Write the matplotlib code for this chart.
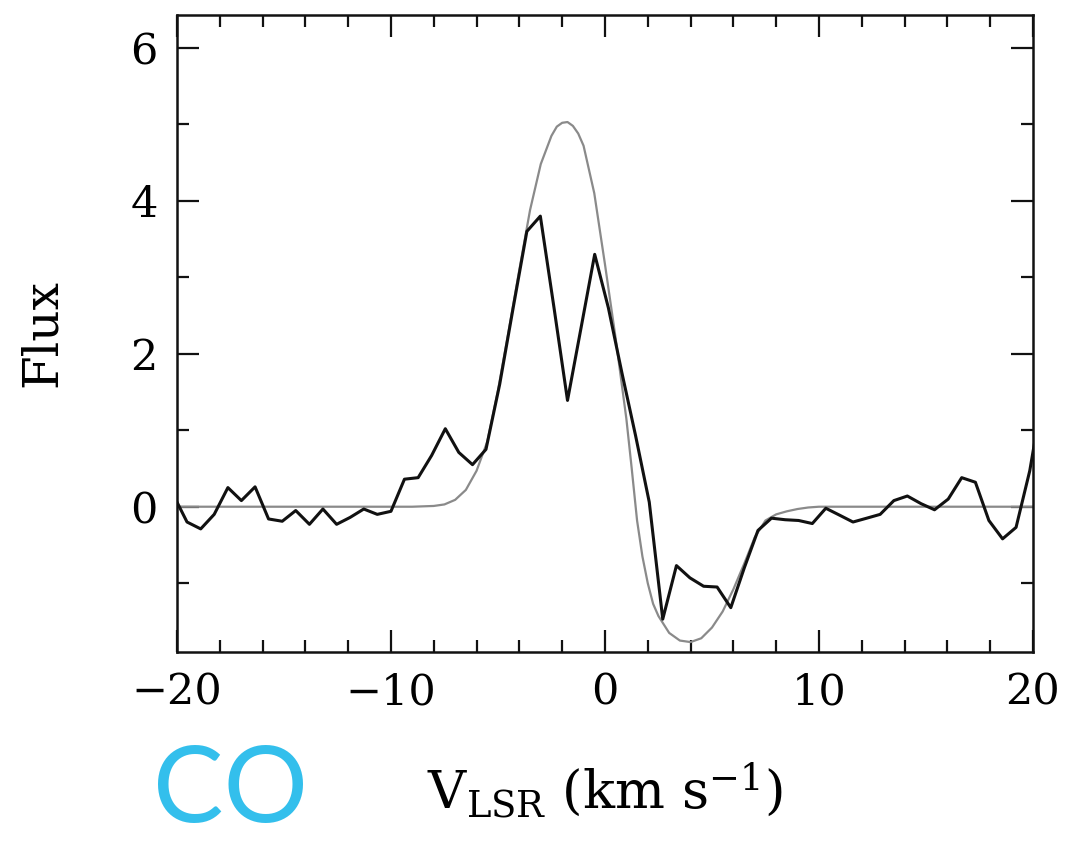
import matplotlib
matplotlib.use("Agg")
import matplotlib.pyplot as plt
from matplotlib.ticker import MultipleLocator

# Observed CO spectrum (channel velocities in km/s, flux)
velocity = [-20.16, -19.53, -18.89, -18.26, -17.62, -16.99, -16.35, -15.72,
            -15.08, -14.45, -13.81, -13.18, -12.54, -11.91, -11.27, -10.64,
            -10.00, -9.37, -8.73, -8.10, -7.46, -6.83, -6.19, -5.56,
            -4.92, -4.29, -3.65, -3.02, -2.38, -1.75, -1.11, -0.48,
            0.16, 0.80, 1.43, 2.07, 2.70, 3.34, 3.97, 4.61,
            5.24, 5.88, 6.51, 7.15, 7.78, 8.42, 9.05, 9.69,
            10.32, 10.96, 11.59, 12.23, 12.86, 13.50, 14.13, 14.77,
            15.40, 16.04, 16.67, 17.31, 17.94, 18.58, 19.21, 19.85, 20.48]
flux = [0.15, -0.20, -0.29, -0.10, 0.25, 0.08, 0.26, -0.16,
        -0.19, -0.05, -0.23, -0.03, -0.23, -0.14, -0.03, -0.10,
        -0.06, 0.36, 0.38, 0.67, 1.02, 0.71, 0.55, 0.75,
        1.60, 2.60, 3.60, 3.80, 2.60, 1.39, 2.35, 3.30,
        2.60, 1.74, 0.93, 0.06, -1.47, -0.77, -0.93, -1.04,
        -1.05, -1.32, -0.80, -0.31, -0.15, -0.17, -0.18, -0.22,
        -0.02, -0.11, -0.20, -0.15, -0.10, 0.08, 0.14, 0.04,
        -0.04, 0.10, 0.38, 0.32, -0.18, -0.42, -0.27, 0.47, 1.50]

# Model profile (P Cygni-like fit)
fit_velocity = [-20.0, -9.0, -8.0, -7.5, -7.0, -6.5, -6.0, -5.5, -5.0, -4.5,
                -4.0, -3.5, -3.0, -2.5, -2.25, -2.0, -1.75, -1.5, -1.25, -1.0,
                -0.5, 0.0, 0.5, 1.0, 1.25, 1.5, 1.75, 2.0, 2.25, 2.5,
                3.0, 3.5, 4.0, 4.5, 5.0, 5.5, 6.0, 6.5, 7.0, 7.5,
                8.0, 8.5, 9.0, 9.5, 10.0, 20.0]
fit_flux = [0.0, 0.0, 0.01, 0.03, 0.09, 0.22, 0.47, 0.85, 1.52, 2.30,
            3.10, 3.88, 4.48, 4.85, 4.97, 5.02, 5.03, 4.98, 4.88, 4.72,
            4.10, 3.17, 2.20, 1.15, 0.50, -0.18, -0.65, -1.00, -1.27, -1.43,
            -1.65, -1.75, -1.77, -1.72, -1.58, -1.37, -1.08, -0.75, -0.40, -0.18,
            -0.10, -0.06, -0.03, -0.01, 0.0, 0.0]

x_limits = (-20, 20)
y_limits = (-1.9, 6.43)
x_ticks = [-20, -10, 0, 10, 20]
y_ticks = [0, 2, 4, 6]

plt.rcParams["font.family"] = ["DejaVu Serif"]
plt.rcParams["mathtext.fontset"] = "dejavuserif"

fig = plt.figure(figsize=(10.83, 8.41), dpi=100)
ax = fig.add_axes([0.1634, 0.2247, 0.7904, 0.7575])

ax.plot(fit_velocity, fit_flux, color="#8a8a8a", lw=1.6, zorder=2)
ax.plot(velocity, flux, color="#111111", lw=2.2, zorder=3)

ax.set_xlim(*x_limits)
ax.set_ylim(*y_limits)
ax.set_xticks(x_ticks)
ax.set_yticks(y_ticks)
ax.xaxis.set_minor_locator(MultipleLocator(2))
ax.yaxis.set_minor_locator(MultipleLocator(1))

ax.tick_params(which="both", direction="in", top=True, right=True,
               width=1.6, color="#111111")
ax.tick_params(which="major", length=16, labelsize=31, pad=14)
ax.tick_params(which="minor", length=8.5)
for side in ax.spines.values():
    side.set_linewidth(1.8)
    side.set_color("#111111")

ax.set_ylabel("Flux", fontsize=35, labelpad=46)
ax.set_xlabel(r"V$_{\rm LSR}$ (km s$^{-1}$)", fontsize=38, labelpad=34)

fig.text(0.213, 0.058, "CO", color="#33bfec", fontsize=76,
         family=["Lato", "DejaVu Sans"], ha="center", va="center")

fig.savefig("out.png", dpi=100)
